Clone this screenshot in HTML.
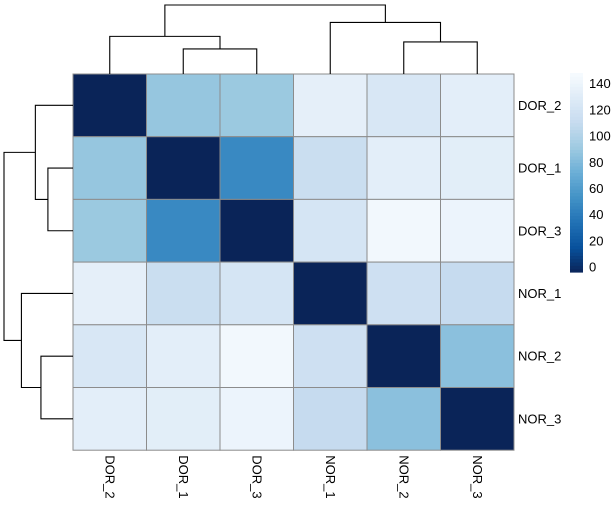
<!DOCTYPE html>
<html><head><meta charset="utf-8"><style>
html,body{margin:0;padding:0;background:#fff;}
svg{display:block;font-family:"Liberation Sans",Arial,sans-serif;}
</style></head><body>
<svg id="chart" width="615" height="509" xmlns="http://www.w3.org/2000/svg"></svg>
<script>
const labels = ["DOR_2","DOR_1","DOR_3","NOR_1","NOR_2","NOR_3"];
const row0 = [0, 92, 94, 138, 128, 137];
const row1 = [92, 0, 52, 117, 137, 136];
const row2 = [94, 52, 0, 126, 148, 144];
const row3 = [138, 117, 126, 0, 120, 114];
const row4 = [128, 137, 148, 120, 0, 88];
const row5 = [137, 136, 144, 114, 88, 0];
const matrix = [row0,row1,row2,row3,row4,row5];
const legendTicks = [0,20,40,60,80,100,120,140];
const legendMax = 152;
// dendrogram merges: [leftNode,rightNode,height]; leaves are 0..5, merges are 6+
const merges = [[1,2,18],[4,5,23],[0,6,27],[3,7,37],[8,9,49.5]];
const dendroMaxH = 49.5;

const NS="http://www.w3.org/2000/svg";
const svg=document.getElementById('chart');
const gx0=73, gy0=74, cw=73.5, ch=62.7;
const pal=["#0A2458","#08519C","#2171B5","#4292C6","#6BAED6","#9ECAE1","#C6DBEF","#DEEBF7","#F7FBFF"];
function hex(c){return [1,3,5].map(i=>parseInt(c.substr(i,2),16));}
function color(v){let t=Math.max(0,Math.min(1,v/legendMax))*8;let i=Math.min(7,Math.floor(t)),f=t-i;
 const a=hex(pal[i]),b=hex(pal[i+1]);return "rgb("+a.map((x,k)=>Math.round(x+(b[k]-x)*f)).join(",")+")";}
function el(tag,attrs){const e=document.createElementNS(NS,tag);for(const k in attrs)e.setAttribute(k,attrs[k]);svg.appendChild(e);return e;}
matrix.forEach((row,r)=>row.forEach((v,c)=>{
 const e=el('rect',{x:gx0+c*cw,y:gy0+r*ch,width:cw,height:ch,fill:color(v),stroke:'#8c8c8c','stroke-width':1});
 
 
}));
labels.forEach((l,i)=>{
 const t=el('text',{x:gx0+6*cw+4,y:gy0+i*ch+ch/2+4.5,'font-size':13,fill:'#000'});t.textContent=l;
 
 
 const cx=gx0+i*cw+cw/2-4.5, cy=gy0+6*ch+5;
 const u=el('text',{x:cx,y:cy,'font-size':13,fill:'#000',transform:'rotate(90 '+cx+' '+cy+')'});u.textContent=l;
 
 
});
function drawDendro(top){
 const pos=labels.map((_,i)=>i+0.5), h=labels.map(()=>0);
 const base= top?gy0:gx0, span=69;
 const toH=v=>base-v/dendroMaxH*span;
 const toP=p=>(top?gx0+p*cw:gy0+p*ch);
 merges.forEach(([a,b,hh])=>{
  const pa=toP(pos[a]),pb=toP(pos[b]),ha=toH(h[a]),hb=toH(h[b]),hm=toH(hh);
  const d= top? `M${pa},${ha}V${hm}H${pb}V${hb}` : `M${ha},${pa}H${hm}V${pb}H${hb}`;
  const p=el('path',{d:d,fill:'none',stroke:'#000','stroke-width':1.1});
  
  
  pos.push((pos[a]+pos[b])/2);h.push(hh);
 });
}
drawDendro(true);drawDendro(false);
const lx=570,lw=13,ly0=272,lyTop=73;
const steps=60;
for(let i=0;i<steps;i++){
 const v0=legendMax*i/steps,yb=ly0-(ly0-lyTop)*i/steps,yt=ly0-(ly0-lyTop)*(i+1)/steps;
 const r=el('rect',{x:lx,y:yt,width:lw,height:yb-yt+0.6,fill:color(v0+legendMax/steps/2)});
 
 
}
legendTicks.forEach(v=>{
 const y=ly0-(ly0-lyTop)*v/legendMax;
 const t=el('text',{x:lx+lw+6,y:y-0.5,'font-size':13,fill:'#000'});t.textContent=v;
 
 
});
</script>
</body></html>
